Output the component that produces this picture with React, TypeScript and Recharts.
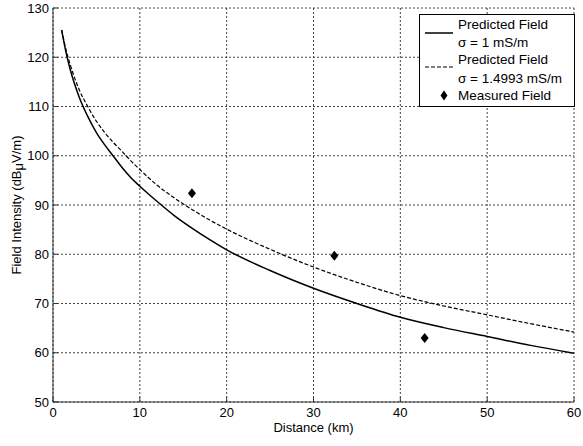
import {
  ComposedChart,
  Line,
  Scatter,
  XAxis,
  YAxis,
  CartesianGrid,
  Legend,
} from 'recharts';

// values
const distanceKm = [1, 1.5, 2, 3, 4, 5, 6, 7, 8, 9, 10, 12, 14, 16, 18, 20, 25, 30, 35, 40, 45, 50, 55, 60];
const fieldSigma1 = [125.5, 121.0, 117.4, 112.0, 108.0, 104.7, 102.1, 99.8, 97.5, 95.5, 93.8, 90.7, 87.8, 85.3, 83.0, 80.9, 76.7, 73.1, 70.0, 67.2, 65.1, 63.3, 61.5, 59.9];
const fieldSigma15 = [125.5, 121.5, 118.4, 113.5, 110.0, 107.0, 104.6, 102.6, 100.8, 98.9, 97.2, 94.0, 91.4, 89.1, 87.0, 85.1, 81.0, 77.4, 74.3, 71.6, 69.5, 67.7, 65.9, 64.2];
const measuredKm = [16.0, 32.4, 42.8];
const measuredField = [92.4, 79.7, 63.0];
const xTicks = [0, 10, 20, 30, 40, 50, 60];
const yTicks = [50, 60, 70, 80, 90, 100, 110, 120, 130];

const FONT = '"Liberation Sans", Arial, sans-serif';

const curveData = distanceKm.map((km, i) => ({
  km,
  s1: fieldSigma1[i],
  s15: fieldSigma15[i],
}));
const measuredData = measuredKm.map((km, i) => ({ km, field: measuredField[i] }));

function Diamond(props: any) {
  const { cx, cy } = props;
  if (cx == null || cy == null) return null;
  return (
    <path
      d={`M${cx},${cy - 5} L${cx + 4},${cy} L${cx},${cy + 5} L${cx - 4},${cy} Z`}
      fill="#000"
    />
  );
}

function YLabel(props: any) {
  const { viewBox } = props;
  const cy = viewBox.y + viewBox.height / 2;
  const x = 18;
  return (
    <text
      x={x}
      y={cy}
      transform={`rotate(-90, ${x}, ${cy})`}
      textAnchor="middle"
      dominantBaseline="middle"
      fontSize={13}
      fontFamily={FONT}
      fill="#000"
    >
      Field Intensity (dB<tspan dy={2}>μ</tspan>
      <tspan dy={-2}>V/m)</tspan>
    </text>
  );
}

function LegendBox() {
  const txt = (top: number, s: string) => (
    <div style={{ position: 'absolute', left: 38, top: top - 9, height: 18, lineHeight: '18px', whiteSpace: 'nowrap' }}>
      {s}
    </div>
  );
  return (
    <div
      style={{
        position: 'relative',
        width: 156,
        height: 93,
        border: '1px solid #000',
        background: '#fff',
        boxSizing: 'border-box',
        fontFamily: FONT,
        fontSize: 13.5,
        color: '#000',
      }}
    >
      <svg width={156} height={93} style={{ position: 'absolute', left: -1, top: -1 }}>
        <line x1={6} y1={19} x2={34} y2={19} stroke="#000" strokeWidth={1.5} />
        <line x1={6} y1={53} x2={34} y2={53} stroke="#000" strokeWidth={1.2} strokeDasharray="4 2" />
        <path d="M25,76.5 L28.5,81.5 L25,86.5 L21.5,81.5 Z" fill="#000" />
      </svg>
      {txt(9.5, 'Predicted Field')}
      {txt(27.5, 'σ = 1 mS/m')}
      {txt(45, 'Predicted Field')}
      {txt(64, 'σ = 1.4993 mS/m')}
      {txt(81, 'Measured Field')}
    </div>
  );
}

const tickStyle = { fontSize: 13, fill: '#000', fontFamily: FONT };

export default function App() {
  return (
    <div style={{ position: 'absolute', left: 0, top: 0, width: 583, height: 446, background: '#fff' }}>
      <ComposedChart
        width={583}
        height={446}
        data={curveData}
        margin={{ top: 8, right: 9, left: 0, bottom: 0 }}
      >
        <CartesianGrid
          stroke="#444"
          strokeDasharray="2 2"
          horizontalValues={yTicks}
          verticalValues={xTicks}
        />
        <XAxis
          dataKey="km"
          type="number"
          domain={[0, 60]}
          ticks={xTicks}
          allowDataOverflow
          tickSize={-5}
          tickMargin={11}
          tick={tickStyle}
          stroke="#333"
          height={44}
          label={{
            value: 'Distance (km)',
            position: 'insideBottom',
            offset: 14,
            style: { fontSize: 13, fill: '#000', fontFamily: FONT },
          }}
        />
        <XAxis
          xAxisId="top"
          orientation="top"
          type="number"
          domain={[0, 60]}
          ticks={xTicks}
          tick={false}
          tickSize={-5}
          stroke="#333"
          height={0}
        />
        <YAxis
          type="number"
          domain={[50, 130]}
          ticks={yTicks}
          allowDataOverflow
          tickSize={-5}
          tickMargin={9}
          tick={tickStyle}
          stroke="#333"
          width={53}
          label={<YLabel />}
        />
        <YAxis
          yAxisId="right"
          orientation="right"
          type="number"
          domain={[50, 130]}
          ticks={yTicks}
          tick={false}
          tickSize={-5}
          stroke="#333"
          width={0}
        />
        <Line
          dataKey="s1"
          stroke="#000"
          strokeWidth={1.5}
          dot={false}
          type="monotone"
          isAnimationActive={false}
        />
        <Line
          dataKey="s15"
          stroke="#000"
          strokeWidth={1.2}
          strokeDasharray="4 2"
          dot={false}
          type="monotone"
          isAnimationActive={false}
        />
        <Scatter data={measuredData} dataKey="field" shape={<Diamond />} isAnimationActive={false} />
        <Legend
          layout="vertical"
          align="center"
          verticalAlign="middle"
          content={() => <LegendBox />}
          wrapperStyle={{ left: 419, top: 14, width: 156, height: 93 }}
        />
      </ComposedChart>
    </div>
  );
}
